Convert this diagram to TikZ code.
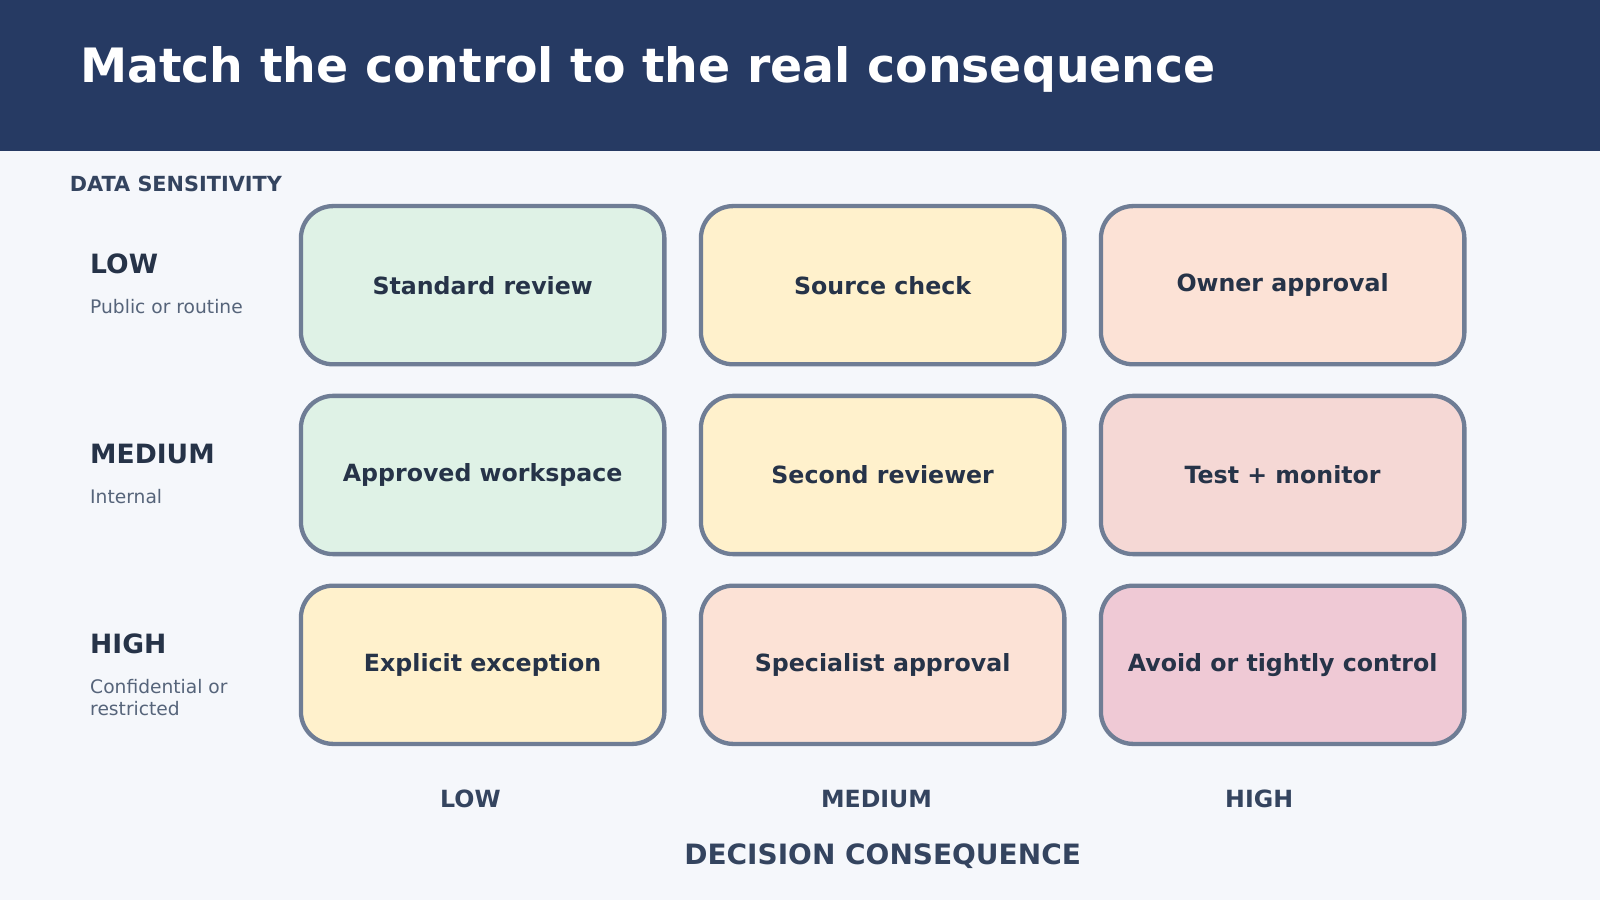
\documentclass[tikz,border=0pt]{standalone}
\usepackage{fontspec}
\setmainfont{DejaVu Sans}
\usepackage{xcolor}
\usetikzlibrary{positioning}
\definecolor{header}{HTML}{263A63}
\definecolor{canvas}{HTML}{F5F7FB}
\definecolor{ink}{HTML}{263348}
\definecolor{axis}{HTML}{34445F}
\definecolor{muted}{HTML}{56647A}
\definecolor{edge}{HTML}{6F7D95}
\definecolor{lowc}{HTML}{DFF2E6}
\definecolor{midc}{HTML}{FFF1CC}
\definecolor{peach}{HTML}{FCE2D6}
\definecolor{rose}{HTML}{F5D8D5}
\definecolor{mauve}{HTML}{EFC9D5}

\begin{document}
\begin{tikzpicture}[
  x=0.01cm, y=-0.01cm,
  cell/.style={rectangle, draw=edge, line width=1.2pt, rounded corners=9pt, minimum width=3.56cm, minimum height=1.55cm, align=center, font=\fontsize{6.6}{8}\selectfont\bfseries, text=ink},
  rowhead/.style={anchor=west, font=\fontsize{7.4}{9}\selectfont\bfseries, text=ink},
  rowsub/.style={anchor=north west, align=left, font=\fontsize{5.2}{6.3}\selectfont, text=muted},
  colhead/.style={font=\fontsize{6.6}{8}\selectfont\bfseries, text=axis}
]
% Background and header
\fill[canvas] (0,0) rectangle (1568,882);
\useasboundingbox (0,0) rectangle (1568,882);
\fill[header] (0,0) rectangle (1568,148);
\node[anchor=west, text=white, font=\fontsize{13.2}{16}\selectfont\bfseries] (title) at (66,68) {Match the control to the real consequence};

% Axis titles
\node[anchor=west, text=axis, font=\fontsize{5.8}{7}\selectfont\bfseries] (ylab) at (56,180) {DATA SENSITIVITY};
\node[text=axis, font=\fontsize{7.8}{9}\selectfont\bfseries] (xlab) at (865,839) {DECISION CONSEQUENCE};

% Row labels
\node[rowhead] (rlow) at (76,259) {LOW};
\node[rowsub] (slow) at (76,281) {Public or routine};
\node[rowhead] (rmed) at (76,445) {MEDIUM};
\node[rowsub] (smed) at (76,467) {Internal};
\node[rowhead] (rhigh) at (76,631) {HIGH};
\node[rowsub] (shigh) at (76,653) {Confidential or\\restricted};

% Grid cells
\node[cell, fill=lowc] (c11) at (473,279.5) {Standard review};
\node[cell, fill=midc] (c12) at (865,279.5) {Source check};
\node[cell, fill=peach] (c13) at (1257,279.5) {Owner approval};
\node[cell, fill=lowc] (c21) at (473,465.5) {Approved workspace};
\node[cell, fill=midc] (c22) at (865,465.5) {Second reviewer};
\node[cell, fill=rose] (c23) at (1257,465.5) {Test + monitor};
\node[cell, fill=midc] (c31) at (473,651.5) {Explicit exception};
\node[cell, fill=peach] (c32) at (865,651.5) {Specialist approval};
\node[cell, fill=mauve] (c33) at (1257,651.5) {Avoid or tightly control};

% Column labels
\node[colhead] (klow) at (461,783) {LOW};
\node[colhead] (kmed) at (859,783) {MEDIUM};
\node[colhead] (khigh) at (1234,783) {HIGH};
\end{tikzpicture}
\end{document}
